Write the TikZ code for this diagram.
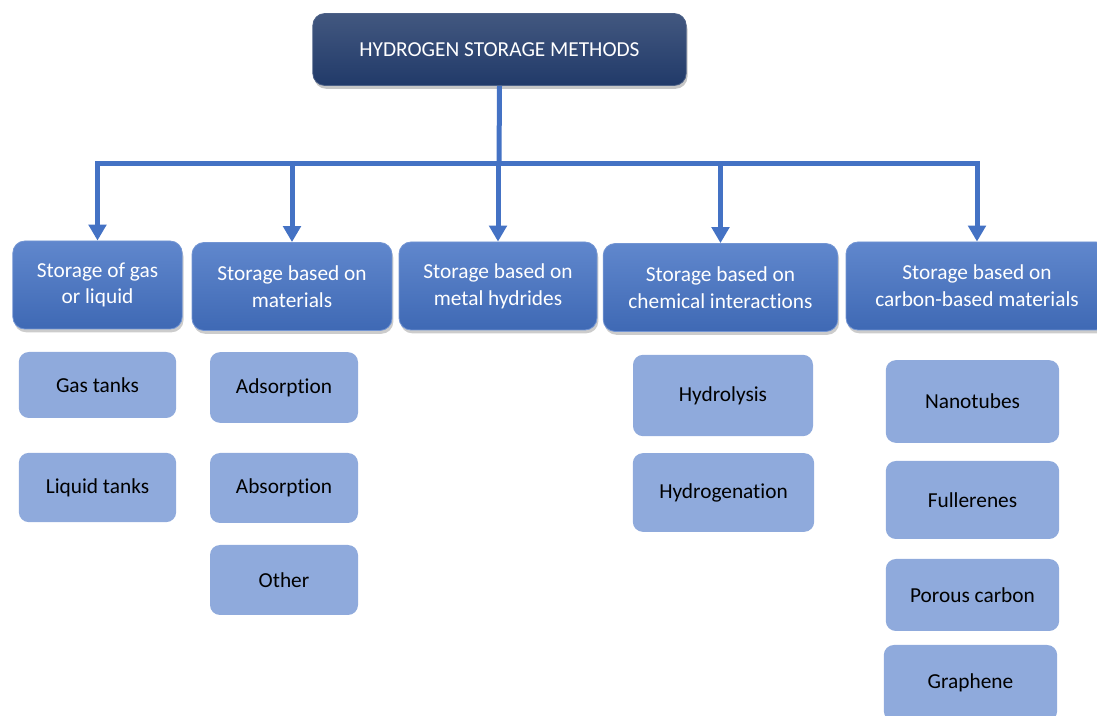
\documentclass[tikz,border=0pt]{standalone}
\usepackage{fontspec}
\setmainfont{Carlito}[Ligatures=NoCommon]
\usetikzlibrary{arrows.meta,shadows}
\definecolor{headnavy}{HTML}{213A69}
\definecolor{catblue}{HTML}{4472C4}
\definecolor{itemblue}{HTML}{8FAADC}
\tikzset{
  headbox/.style={rectangle,rounded corners=9pt,inner sep=0pt,align=center,
    top color=headnavy!85!white,bottom color=headnavy,draw=headnavy!80!white,line width=0.6pt,
    text=white,font=\fontsize{16}{20.5}\selectfont,
    drop shadow={opacity=0.45,shadow xshift=1pt,shadow yshift=-2.5pt}},
  catbox/.style={rectangle,rounded corners=9pt,inner sep=0pt,align=center,
    top color=catblue!85!white,bottom color=catblue!92!black,draw=catblue!75!white,line width=0.6pt,
    text=white,font=\fontsize{16}{20}\selectfont,minimum height=66pt,
    drop shadow={opacity=0.4,shadow xshift=1pt,shadow yshift=-2.5pt}},
  itembox/.style={rectangle,rounded corners=7.5pt,inner sep=0pt,align=center,
    fill=itemblue,text=black,font=\fontsize{16}{20}\selectfont,minimum width=130pt},
  link/.style={draw=catblue,line width=3.75pt,line join=miter,-{Triangle[length=12pt,width=13pt]}},
  trunk/.style={draw=catblue,line width=3.75pt,line cap=butt}
}
\begin{document}
\begin{tikzpicture}[line cap=round,line join=round,x=0.75pt,y=-0.75pt]
\clip (0,0) rectangle (1097,716);
% title
\node[headbox,minimum width=280pt,minimum height=54pt] (hsm) at (499.5,49.5) {HYDROGEN STORAGE METHODS};
% storage categories
\node[catbox,minimum width=127pt] (gasliq) at (97.5,285) {Storage of gas\\or liquid};
\node[catbox,minimum width=150pt] (mater) at (292,286.5) {Storage based on\\materials};
\node[catbox,minimum width=148.5pt] (hydr) at (498,286) {Storage based on\\metal hydrides};
\node[catbox,minimum width=176pt] (chem) at (720.5,287.5) {Storage based on\\chemical interactions};
\node[catbox,minimum width=196.5pt] (carb) at (977,286) {Storage based on\\carbon-based materials};
% sub items
\node[itembox,minimum width=118pt,minimum height=49.5pt] (gas) at (97.5,385) {Gas tanks};
\node[itembox,minimum width=118pt,minimum height=52pt] (liq) at (97.5,487.5) {Liquid tanks};
\node[itembox,minimum width=111pt,minimum height=53pt] (ads) at (284,387.5) {Adsorption};
\node[itembox,minimum width=111pt,minimum height=52.5pt] (abs) at (284,488) {Absorption};
\node[itembox,minimum width=111pt,minimum height=52.5pt] (oth) at (284,580) {Other};
\node[itembox,minimum width=135pt,minimum height=61pt] (hlys) at (723,395.5) {Hydrolysis};
\node[itembox,minimum width=136pt,minimum height=59pt] (hgen) at (723.5,492.5) {Hydrogenation};
\node[itembox,minimum height=62pt] (nano) at (972.5,401.5) {Nanotubes};
\node[itembox,minimum height=58.5pt] (full) at (972.5,500) {Fullerenes};
\node[itembox,minimum height=54pt] (poro) at (972.5,595) {Porous carbon};
\node[itembox,minimum height=57pt] (grap) at (970.5,683) {Graphene};
% connectors
\coordinate (bus) at (499,164);
\draw[trunk] (hsm.south) -- (bus);
\foreach \cat in {gasliq,mater,hydr,chem,carb}
  \draw[link] (bus) -| (\cat.north);
\end{tikzpicture}
\end{document}
